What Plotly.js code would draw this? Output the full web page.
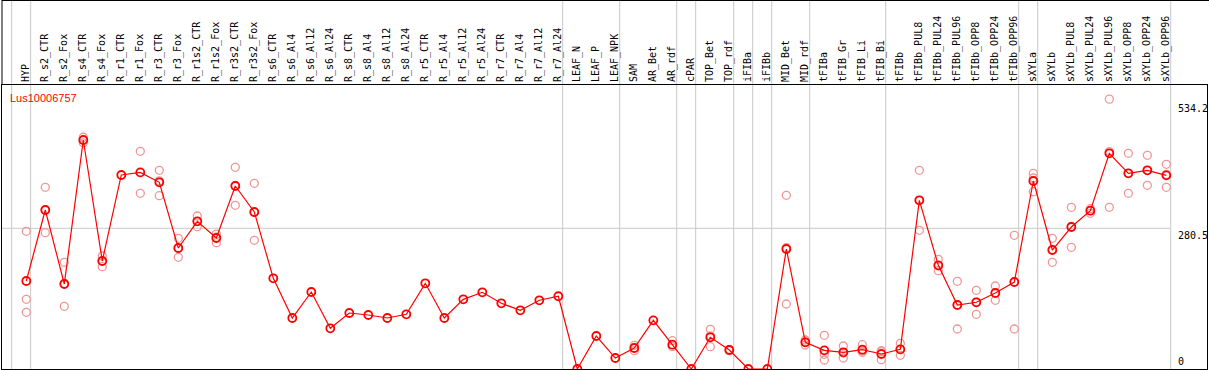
<!DOCTYPE html>
<html><head><meta charset="utf-8">
<script src="https://cdn.plot.ly/plotly-3.0.1.min.js"></script>
<style>html,body{margin:0;padding:0;background:#fff;overflow:hidden}#chart{width:1209px;height:370px}</style>
</head><body><div id="chart"></div>
<script>
const geneName = 'Lus10006757';
const categories = ['HYP','R_s2_CTR','R_s2_Fox','R_s4_CTR','R_s4_Fox','R_r1_CTR','R_r1_Fox','R_r3_CTR','R_r3_Fox',
  'R_r1s2_CTR','R_r1s2_Fox','R_r3s2_CTR','R_r3s2_Fox','R_s6_CTR','R_s6_Al4','R_s6_Al12','R_s6_Al24',
  'R_s8_CTR','R_s8_Al4','R_s8_Al12','R_s8_Al24','R_r5_CTR','R_r5_Al4','R_r5_Al12','R_r5_Al24',
  'R_r7_CTR','R_r7_Al4','R_r7_Al12','R_r7_Al24','LEAF_N','LEAF_P','LEAF_NPK','SAM','AR_Bet','AR_rdf',
  'cPAR','TOP_Bet','TOP_rdf','iFIBa','iFIBb','MID_Bet','MID_rdf','tFIBa','tFIB_Gr','tFIB_Li','tFIB_Bi',
  'tFIBb','tFIBb_PUL8','tFIBb_PUL24','tFIBb_PUL96','tFIBb_OPP8','tFIBb_OPP24','tFIBb_OPP96',
  'sXYLa','sXYLb','sXYLb_PUL8','sXYLb_PUL24','sXYLb_PUL96','sXYLb_OPP8','sXYLb_OPP24','sXYLb_OPP96'];
const meanValues = [175.4,317,169.5,456.5,215.3,386.8,392,372.2,241.2,294.4,261.2,364.8,313,
  180.8,101.7,153.5,81.1,111.6,107.7,101.7,109,170.8,101.7,138.9,152.9,131,117,137,145,
  0,65.8,21.9,41.9,97,48.5,0,63.2,37.9,0,0,239.2,53.2,37.2,33.3,38.5,29.9,39.2,
  336.3,206.7,127.6,133,151.5,173.4,374.8,237.2,283.1,315.6,430,390.1,396.1,386.1];
const replicateA = [274.5,362.2,212.7,462,225.3,null,434,396.1,260.6,305,269,402.1,370.2,
  null,null,null,null,null,null,null,null,null,null,null,null,null,null,null,null,
  null,null,null,47.2,null,56.4,null,79.1,37.9,null,null,346.3,57.8,67.2,45.9,48.4,36.5,51.2,
  396.1,218.7,174.8,156.9,165.5,266.5,390.1,260.6,322.4,319.6,538,430,426,408.1];
const replicateB = [139,271.8,125,456.5,215.3,null,350.3,345.5,222.7,283.7,251.8,326.4,256.6,
  null,null,null,null,null,null,null,null,null,null,null,null,null,null,null,null,
  null,null,null,41.9,null,48.5,null,44.5,36.5,null,null,129.6,47.8,29.3,32.1,35.9,34.7,39.1,
  276.5,196,79.7,109,137,79.7,353.5,212.7,242.6,315.6,322.4,350.3,366.2,362.2];
const replicateC = [113,317,170.8,451,204,null,391.7,375,240.3,294.5,262.8,365.9,312.2,
  null,null,null,null,null,null,null,null,null,null,null,null,null,null,null,null,
  null,null,null,36.5,null,44.5,null,66,39.3,null,null,241.7,54,17.9,21.9,33.3,18.5,27.3,
  336.3,205.4,128.3,133.1,152,174,380.8,238.3,284.3,310.4,433.4,390,396.1,388];
const groupLastCategories = ['HYP','R_r7_Al24','LEAF_NPK','AR_rdf','cPAR','TOP_rdf','iFIBa','iFIBb',
  'MID_rdf','tFIB_Bi','tFIBb_OPP96','sXYLa','sXYLb_OPP96'];
const yTickValues = [0, 280.5, 534.2];
const yTickLabels = ['0', '280.5', '534.2'];

const repX = [], repY = [];
[replicateA, replicateB, replicateC].forEach(arr => {
  arr.forEach((v, i) => { if (v !== null) { repX.push(categories[i]); repY.push(v); } });
});

const traces = [
  {type:'scatter', mode:'markers', x:repX, y:repY, hoverinfo:'skip',
   marker:{symbol:'circle-open', size:8, color:'#f09696', line:{width:1.3, color:'#f09696'}}},
  {type:'scatter', mode:'lines+markers', x:categories, y:meanValues,
   line:{color:'#ff0000', width:1.2},
   marker:{symbol:'circle-open', size:8, color:'#ff0000', line:{width:1.8, color:'#ee0000'}}}
];

const off = 0.23;
const lastIdx = groupLastCategories.map(c => categories.indexOf(c));
const boundaries = [-1 + off].concat(lastIdx.map(i => i + off));
const topPaper = 1 + 85/284;
const shapes = boundaries.map(b => ({type:'line', xref:'x', yref:'paper', x0:b, x1:b, y0:0, y1:topPaper,
  line:{color:'#c8c8c8', width:1}, layer:'below'}));
const xStart = -1.279, xEnd = 62.14;
shapes.push({type:'line', xref:'x', yref:'y', x0:xStart, x1:boundaries[boundaries.length-1], y0:yTickValues[1], y1:yTickValues[1],
  line:{color:'#c8c8c8', width:1}, layer:'below'});
shapes.push({type:'line', xref:'paper', yref:'paper', x0:0, x1:1.01, y0:topPaper, y1:topPaper, line:{color:'#000', width:2}});
shapes.push({type:'line', xref:'paper', yref:'paper', x0:0, x1:0, y0:1, y1:topPaper, line:{color:'#000', width:1}});

const annotations = yTickValues.map((v, k) => ({
  xref:'x', yref:'y', x: boundaries[boundaries.length-1], y: v, xanchor:'left', xshift:5,
  yanchor: v === 0 ? 'bottom' : 'top', text: yTickLabels[k], showarrow:false,
  font:{family:'DejaVu Sans Mono, monospace', size:10, color:'#000'}
}));
annotations.push({xref:'paper', yref:'paper', x:0, y:1, xanchor:'left', yanchor:'top', xshift:6, yshift:-5,
  text:geneName, showarrow:false, font:{family:'Liberation Sans, Arial, sans-serif', size:11, color:'#ff0000'}});

const layout = {
  width:1209, height:370, margin:{l:2, r:2, t:85, b:1, pad:0},
  paper_bgcolor:'#fff', plot_bgcolor:'#fff', showlegend:false,
  xaxis:{type:'category', categoryorder:'array', categoryarray:categories, side:'top',
    range:[xStart, xEnd], tickangle:-90, ticks:'', showgrid:false, zeroline:false,
    showline:true, mirror:true, linecolor:'#000', linewidth:1, ticklabelshift:-1,
    tickfont:{family:'DejaVu Sans Mono, monospace', size:10, color:'#000'}},
  yaxis:{range:[0, 566.2], showgrid:false, zeroline:false, showticklabels:false, ticks:'',
    showline:true, mirror:true, linecolor:'#000', linewidth:1},
  shapes:shapes, annotations:annotations
};
Plotly.newPlot('chart', traces, layout, {displayModeBar:false, staticPlot:true});
</script></body></html>
